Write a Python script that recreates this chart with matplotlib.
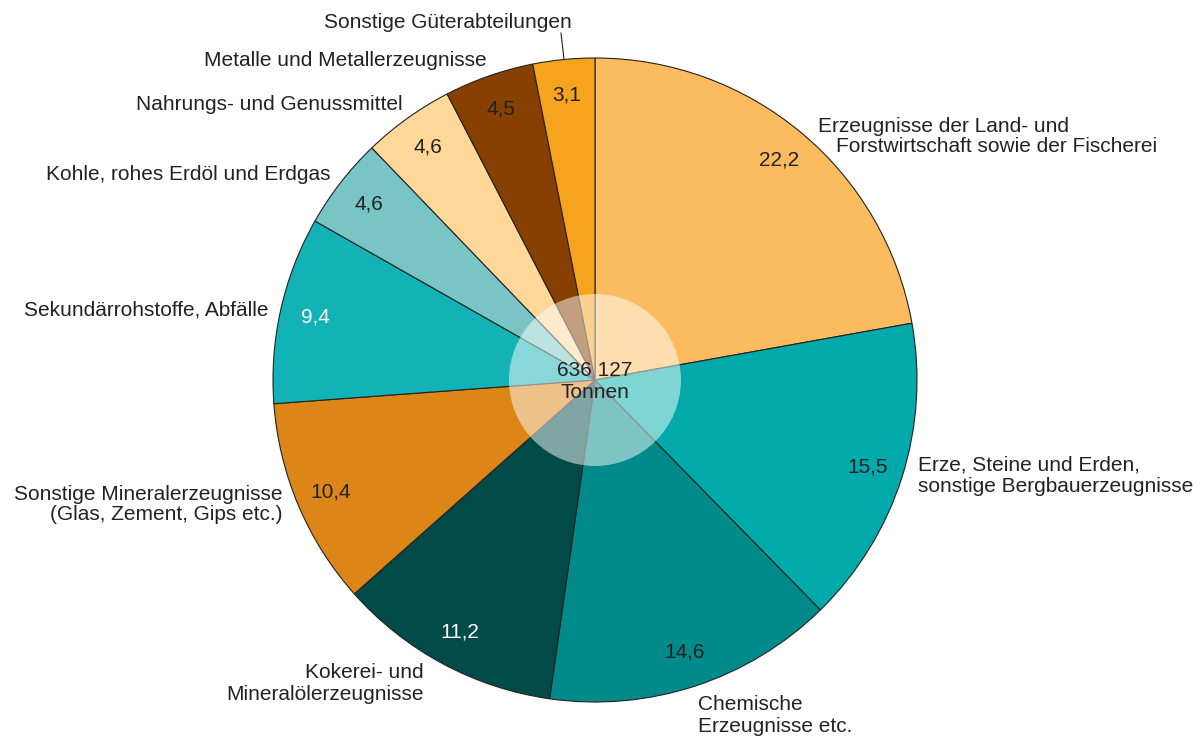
import numpy as np
import matplotlib.pyplot as plt
from matplotlib.patches import Circle

'''
Güterumschlag nach Güterabteilungen (Anteile in %)
'''

# Data
categories = [
    "Erzeugnisse der Land- und\nForstwirtschaft sowie der Fischerei",
    "Erze, Steine und Erden,\nsonstige Bergbauerzeugnisse",
    "Chemische\nErzeugnisse etc.",
    "Kokerei- und\nMineralölerzeugnisse",
    "Sonstige Mineralerzeugnisse\n(Glas, Zement, Gips etc.)",
    "Sekundärrohstoffe, Abfälle",
    "Kohle, rohes Erdöl und Erdgas",
    "Nahrungs- und Genussmittel",
    "Metalle und Metallerzeugnisse",
    "Sonstige Güterabteilungen",
]
shares = [22.2, 15.5, 14.6, 11.2, 10.4, 9.4, 4.6, 4.6, 4.5, 3.1]
total_label = "636 127\nTonnen"

colors = ["#FDBB5F", "#00A9AA", "#008A8A", "#004B4A", "#DB8616",
          "#12B2B6", "#79C5C6", "#FFD899", "#874000", "#F6A31E"]
value_colors = ["#222222"] * 10
value_colors[3] = "white"
value_colors[5] = "white"

# Layout (pixel positions, y from top); x per line, first x used for ha
W, H = 1203, 738
label_pos = [
    ([818, 836], 126, "left"),
    ([918, 918], 465, "left"),
    ([698, 698], 705, "left"),
    ([424, 424], 673, "right"),
    ([283, 283], 494, "right"),
    ([268], 310, "right"),
    ([330], 175, "right"),
    ([403], 105, "right"),
    ([487], 61, "right"),
    ([572], 22, "right"),
]
line_step = 21

plt.rcParams['font.family'] = ['Liberation Sans', 'DejaVu Sans']

fig = plt.figure(figsize=(W / 100, H / 100), dpi=100)
ax = fig.add_axes([0, 0, 1, 1])

cx, cy, r = 595, H - 380, 322

wedges, _ = ax.pie(shares, colors=colors, startangle=90, counterclock=False,
                   radius=r, center=(cx, cy), frame=True,
                   wedgeprops=dict(edgecolor="#222222", linewidth=0.8))
ax.set_xlim(0, W)
ax.set_ylim(0, H)
ax.set_aspect("equal")
ax.axis("off")

# Value labels
for w, v, c in zip(wedges, shares, value_colors):
    mid = np.deg2rad((w.theta1 + w.theta2) / 2)
    ax.text(cx + 0.89 * r * np.cos(mid), cy + 0.89 * r * np.sin(mid),
            f"{v:.1f}".replace(".", ","), ha="center", va="center",
            fontsize=15, color=c)

# Category labels, line by line
for name, (xs, y, ha) in zip(categories, label_pos):
    for i, line in enumerate(name.split("\n")):
        ax.text(xs[i], H - (y + i * line_step), line, ha=ha, va="center",
                fontsize=15, color="#222222")

# Leader line for smallest slice
ax.plot([564, 561], [H - 59, H - 33], color="#222222", linewidth=0.8)

# Centre overlay
ax.add_patch(Circle((cx, cy), 86, facecolor="white", alpha=0.5, edgecolor="none", zorder=5))
ax.text(cx, cy - 1, total_label, ha="center", va="center", fontsize=15,
        color="#222222", linespacing=1.2, zorder=6)

plt.savefig("out.png", dpi=100)
